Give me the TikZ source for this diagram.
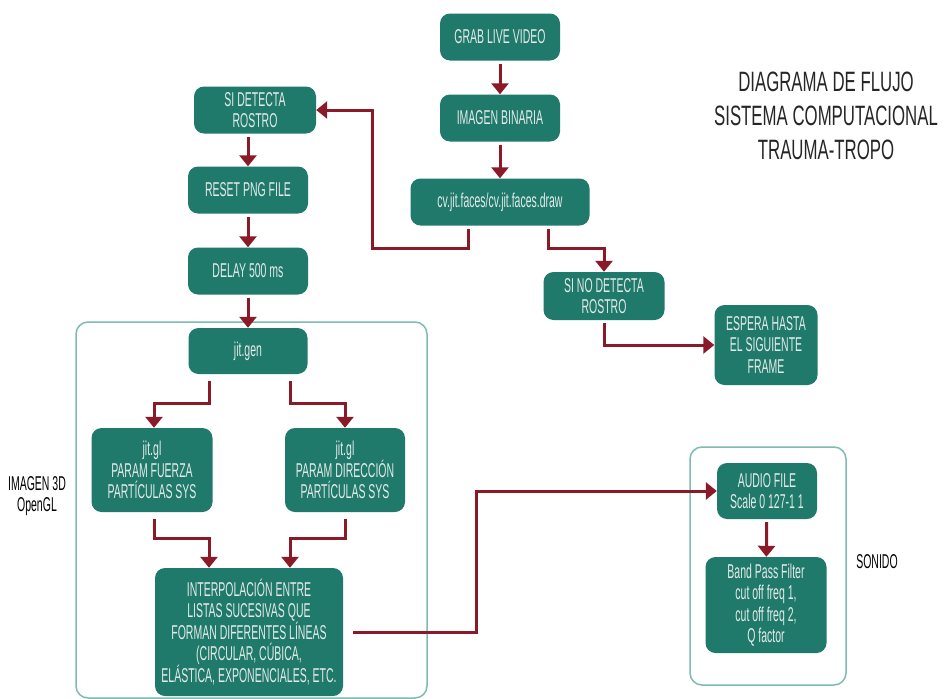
\documentclass[tikz,border=0pt]{standalone}
\usepackage{fontspec}
\setmainfont{Liberation Sans}[FakeStretch=0.525]
\newfontfamily\titlefont{Liberation Sans}[FakeStretch=0.6]
\usetikzlibrary{arrows.meta}
\definecolor{boxteal}{HTML}{1F7A6B}
\definecolor{boxtext}{HTML}{E3EAE8}
\definecolor{flowred}{HTML}{8A1A28}
\definecolor{frameteal}{HTML}{7DBBB3}
\begin{document}
\begin{tikzpicture}[x=1pt,y=-1pt,
  stepbox/.style={rectangle, rounded corners=10pt, fill=boxteal, text=boxtext,
    align=center, inner sep=0pt, font=\fontsize{20}{21.5}\selectfont},
  arr/.style={draw=flowred, line width=3pt, shorten <=3pt,
    -{Triangle[width=17pt,length=11pt]}},
  groupframe/.style={rectangle, draw=frameteal, line width=1.5pt,
    rounded corners=12pt, inner sep=0pt},
  sidelabel/.style={align=center, text=black, inner sep=0pt,
    font=\fontsize{20}{21.5}\selectfont},
  titlelabel/.style={align=center, text=black!85, inner sep=0pt,
    font=\titlefont\fontsize{28}{34}\selectfont}]

% canvas
\fill[white] (0,0) rectangle (946,699);
\useasboundingbox (0,0) rectangle (946,699);

% group frames
\node[groupframe, minimum width=351pt, minimum height=376pt] (frame3d) at (251.5,510) {};
\node[groupframe, minimum width=156pt, minimum height=238pt] (framesnd) at (768,566) {};

% video capture chain
\node[stepbox, minimum width=120pt, minimum height=47pt] (grab) at (500,37) {GRAB LIVE VIDEO};
\node[stepbox, minimum width=120pt, minimum height=47pt] (binaria) at (500,118) {IMAGEN BINARIA};
\node[stepbox, minimum width=179pt, minimum height=47pt] (faces) at (500,202) {cv.jit.faces/cv.jit.faces.draw};

% face found branch
\node[stepbox, minimum width=122pt, minimum height=47pt] (sidet) at (255,110) {SI DETECTA\\ROSTRO};
\node[stepbox, minimum width=120pt, minimum height=47pt] (reset) at (248,190) {RESET PNG FILE};
\node[stepbox, minimum width=120pt, minimum height=47pt] (delay) at (248,271) {DELAY 500 ms};

% no face branch
\node[stepbox, minimum width=121pt, minimum height=48pt] (sinodet) at (604,296) {SI NO DETECTA\\ROSTRO};
\node[stepbox, minimum width=103pt, minimum height=80pt] (espera) at (766,345) {ESPERA HASTA\\EL SIGUIENTE\\FRAME};

% 3D image group
\node[stepbox, minimum width=119pt, minimum height=46pt] (jitgen) at (248,351) {jit.gen};
\node[stepbox, minimum width=121pt, minimum height=84pt] (fuerza) at (152,470) {jit.gl\\PARAM FUERZA\\PARTÍCULAS SYS};
\node[stepbox, minimum width=120pt, minimum height=84pt] (direc) at (345,470) {jit.gl\\PARAM DIRECCIÓN\\PARTÍCULAS SYS};
\node[stepbox, minimum width=188pt, minimum height=128pt] (interp) at (249,632)
  {INTERPOLACIÓN ENTRE\\LISTAS SUCESIVAS QUE\\FORMAN DIFERENTES LÍNEAS\\(CIRCULAR, CÚBICA,\\ELÁSTICA, EXPONENCIALES, ETC.};

% sound group
\node[stepbox, minimum width=100pt, minimum height=56pt] (audio) at (767,491) {AUDIO FILE\\Scale 0 127-1 1};
\node[stepbox, minimum width=121pt, minimum height=96pt] (band) at (766,605) {Band Pass Filter\\cut off freq 1,\\cut off freq 2,\\Q factor};

% labels
\node[sidelabel] (lbl3d) at (37,496) {IMAGEN 3D\\OpenGL};
\node[sidelabel] (lblsnd) at (877,562) {SONIDO};
\node[titlelabel] (title) at (826,116) {DIAGRAMA DE FLUJO\\SISTEMA COMPUTACIONAL\\TRAUMA-TROPO};

% connectors
\draw[arr] (grab) -- (binaria);
\draw[arr] (binaria) -- (faces);
\draw[arr] ([xshift=-32pt]faces.south) |- (372,248) |- (sidet.east);
\draw[arr] ([xshift=48pt]faces.south) |- (604,248) -- (sinodet.north);
\draw[arr] (sidet.south -| reset.north) -- (reset.north);
\draw[arr] (reset) -- (delay);
\draw[arr] (delay) -- (jitgen);
\draw[arr] (sinodet.south) |- (espera.west);
\draw[arr, shorten <=7pt] ([xshift=-39pt]jitgen.south) |- (154,403) -- (fuerza.north -| 154,0);
\draw[arr, shorten <=7pt] ([xshift=42pt]jitgen.south) |- (345,403) -- (direc.north);
\draw[arr, shorten <=7pt] (fuerza.south -| 154,0) |- (209,538) -- (interp.north -| 209,0);
\draw[arr, shorten <=7pt] (direc.south) |- (290,538) -- (interp.north -| 290,0);
\draw[arr, shorten <=10pt] (interp.east) -- (476,632) |- (audio.west);
\draw[arr] (audio) -- (band);
\end{tikzpicture}
\end{document}
